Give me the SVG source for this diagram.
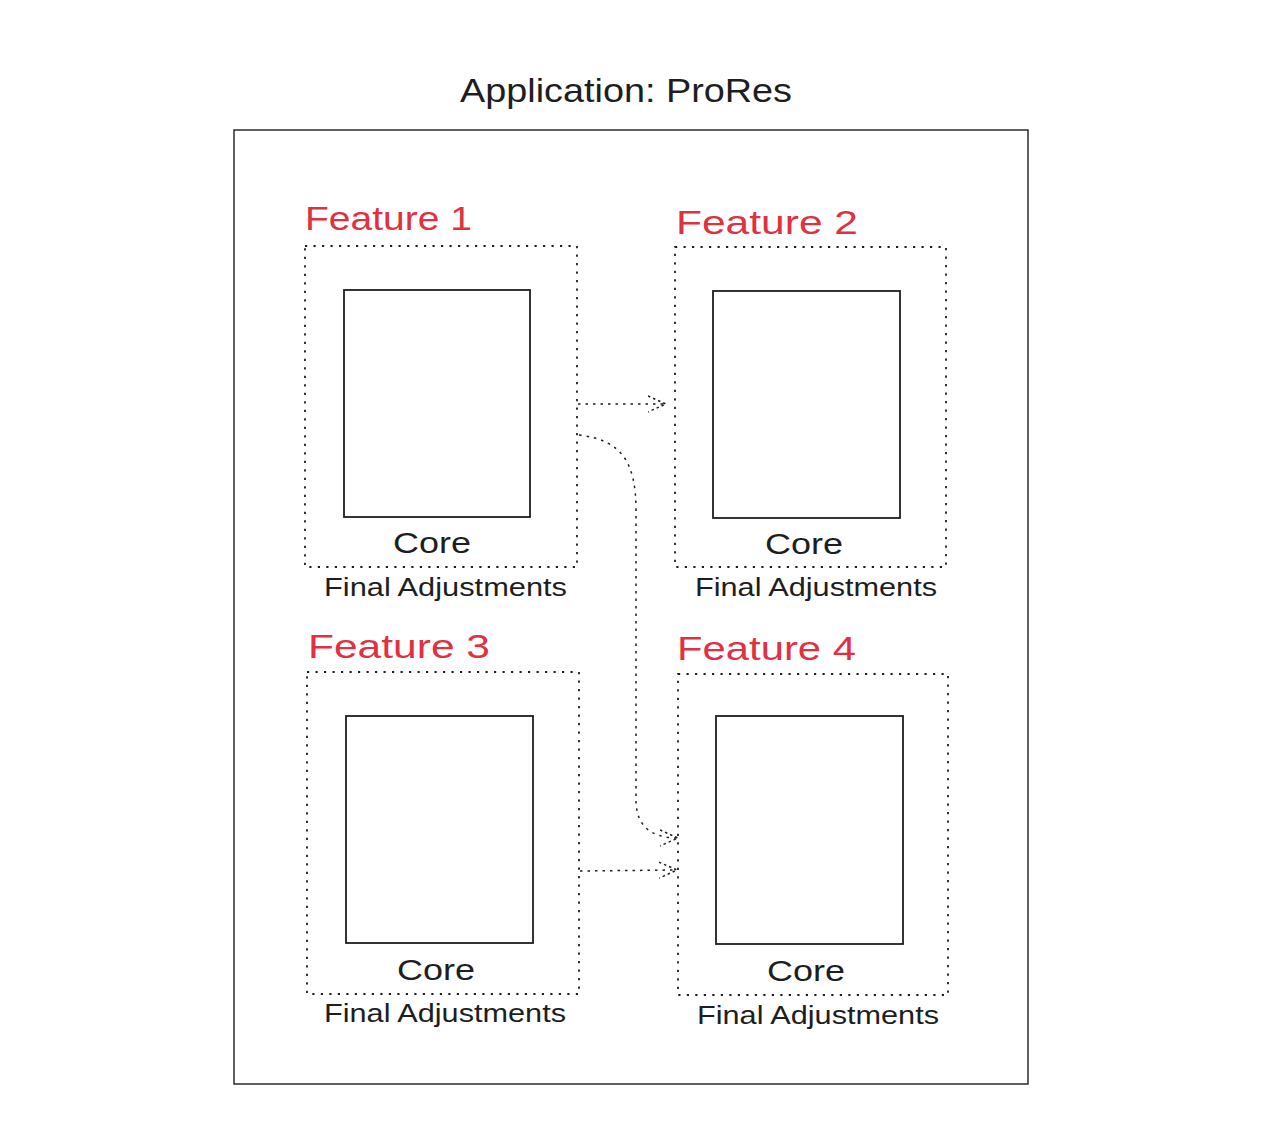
<svg xmlns="http://www.w3.org/2000/svg" width="1265" height="1148" viewBox="0 0 1265 1148">
<defs>
<style>
.frame{fill:none;stroke:#1e1e1e;stroke-width:1.4}
.core{fill:#fff;stroke:#1e1e1e;stroke-width:1.8}
.dot{fill:none;stroke:#1e1e1e;stroke-width:1.8;stroke-dasharray:2.2 6.3}
.conn{fill:none;stroke:#1e1e1e;stroke-width:1.5;stroke-dasharray:2.5 5}
.title{font-family:"Liberation Sans",sans-serif;font-size:34px;fill:#1e1e1e}
.feat{font-family:"Liberation Sans",sans-serif;font-size:34px;fill:#e03141}
.lbl{font-family:"Liberation Sans",sans-serif;font-size:30px;fill:#1e1e1e}
.fa{font-family:"Liberation Sans",sans-serif;font-size:26px;fill:#1e1e1e}
</style>
<marker id="ah" viewBox="0 0 20 20" refX="18" refY="10" markerWidth="20" markerHeight="20" markerUnits="userSpaceOnUse" orient="auto">
<path d="M0 2 L18 10 L0 18" fill="none" stroke="#1e1e1e" stroke-width="1.5" stroke-dasharray="2.5 3"/>
</marker>
</defs>
<rect width="1265" height="1148" fill="#fff"/>
<text class="title" x="626" y="102" text-anchor="middle" textLength="332" lengthAdjust="spacingAndGlyphs">Application: ProRes</text>
<rect class="frame" x="234" y="130" width="794" height="954"/>

<g id="feature1">
<text class="feat" x="305" y="230" textLength="167" lengthAdjust="spacingAndGlyphs">Feature 1</text>
<rect class="dot" x="305" y="246" width="272" height="321"/>
<rect class="core" x="344" y="290" width="186" height="227"/>
<text class="lbl" x="432" y="553" text-anchor="middle" textLength="78" lengthAdjust="spacingAndGlyphs">Core</text>
<text class="fa" x="324" y="596" textLength="243" lengthAdjust="spacingAndGlyphs">Final Adjustments</text>
</g>

<g id="feature2">
<text class="feat" x="676" y="234" textLength="182" lengthAdjust="spacingAndGlyphs">Feature 2</text>
<rect class="dot" x="675" y="247" width="271" height="320"/>
<rect class="core" x="713" y="291" width="187" height="227"/>
<text class="lbl" x="804" y="554" text-anchor="middle" textLength="78" lengthAdjust="spacingAndGlyphs">Core</text>
<text class="fa" x="695" y="596" textLength="242" lengthAdjust="spacingAndGlyphs">Final Adjustments</text>
</g>

<g id="feature3">
<text class="feat" x="308" y="658" textLength="182" lengthAdjust="spacingAndGlyphs">Feature 3</text>
<rect class="dot" x="307" y="672" width="272" height="322"/>
<rect class="core" x="346" y="716" width="187" height="227"/>
<text class="lbl" x="436" y="980" text-anchor="middle" textLength="78" lengthAdjust="spacingAndGlyphs">Core</text>
<text class="fa" x="324" y="1022" textLength="242" lengthAdjust="spacingAndGlyphs">Final Adjustments</text>
</g>

<g id="feature4">
<text class="feat" x="677" y="660" textLength="179" lengthAdjust="spacingAndGlyphs">Feature 4</text>
<rect class="dot" x="678" y="674" width="270" height="321"/>
<rect class="core" x="716" y="716" width="187" height="228"/>
<text class="lbl" x="806" y="981" text-anchor="middle" textLength="78" lengthAdjust="spacingAndGlyphs">Core</text>
<text class="fa" x="697" y="1024" textLength="242" lengthAdjust="spacingAndGlyphs">Final Adjustments</text>
</g>

<g id="connectors">
<path class="conn" d="M578 404 L666 404" marker-end="url(#ah)"/>
<path class="conn" d="M579 435 C620 440 636 460 636 510 L636 800 C636 825 650 838 678 838" marker-end="url(#ah)"/>
<path class="conn" d="M580 871 L677 870" marker-end="url(#ah)"/>
</g>
</svg>
